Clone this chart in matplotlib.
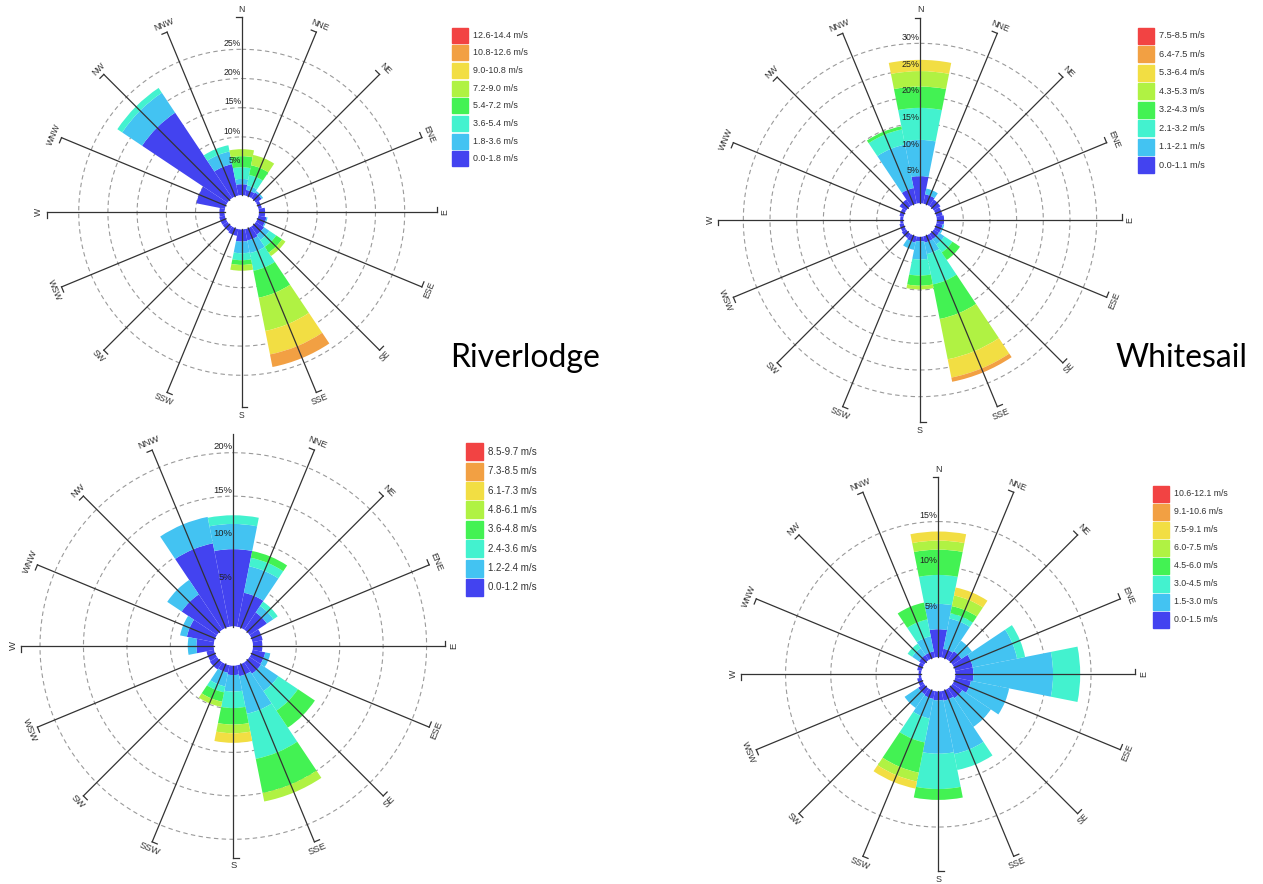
import numpy as np
import matplotlib.pyplot as plt
from matplotlib.patches import Rectangle

plt.rcParams['font.family'] = ['Liberation Sans', 'DejaVu Sans']

W, H = 1263, 884

DIRS = ['N', 'NNE', 'NE', 'ENE', 'E', 'ESE', 'SE', 'SSE',
        'S', 'SSW', 'SW', 'WSW', 'W', 'WNW', 'NW', 'NNW']
COLORS = ['#4343F0', '#43C3F2', '#43F2CF', '#43F253',
          '#B0F243', '#F2DE43', '#F2A043', '#F24343']

# cumulative frequency (%) at the top of each speed class, one row per direction
riverlodge = [
    [1.9, 2.8, 4.8, 6.7, 7.9], [1.0, 1.8, 3.6, 5.3, 7.1], [1.2, 1.5], [0.6],
    [1.1], [1.4, 1.6], [1.7, 2.8, 4.2, 5.4, 6.1], [2.0, 4.2, 7.3, 12.0, 17.8, 21.9, 24.1],
    [2.1, 4.1, 5.3, 6.1, 7.1], [1.2], [1.0], [1.0],
    [0.9], [5.0], [17.6, 21.7, 22.7], [5.5, 7.7, 8.8],
]
riverlodge_bins = ['0.0-1.8 m/s', '1.8-3.6 m/s', '3.6-5.4 m/s', '5.4-7.2 m/s',
                   '7.2-9.0 m/s', '9.0-10.8 m/s', '10.8-12.6 m/s', '12.6-14.4 m/s']

whitesail = [
    [5.1, 11.9, 17.9, 21.9, 24.8, 26.9], [1.8, 2.9], [1.5], [1.2],
    [1.4], [1.2, 1.5], [1.2, 2.4, 4.2, 5.9], [1.2, 3.4, 9.2, 15.8, 23.5, 27.0, 27.8],
    [0.9, 4.3, 7.3, 9.2, 9.9], [1.2, 2.6], [1.0], [0.8],
    [0.6], [0.8], [1.5], [3.0, 11.3, 14.2, 14.8],
]
whitesail_bins = ['0.0-1.1 m/s', '1.1-2.1 m/s', '2.1-3.2 m/s', '3.2-4.3 m/s',
                  '4.3-5.3 m/s', '5.3-6.4 m/s', '6.4-7.5 m/s', '7.5-8.5 m/s']

site3 = [
    [8.9, 11.8, 12.8], [4.0, 7.1, 8.1, 8.9], [2.4, 3.3, 3.9], [1.2],
    [1.1], [1.5, 2.1], [1.6, 4.0, 6.7, 9.05], [1.3, 5.7, 11.0, 15.0, 16.0],
    [1.1, 3.0, 4.9, 6.8, 7.8, 8.9], [0.9, 2.5, 3.2, 4.3, 4.9], [1.0], [0.9],
    [2.0, 3.0], [3.2, 4.0], [4.9, 6.9], [9.8, 12.9],
]
site3_bins = ['0.0-1.2 m/s', '1.2-2.4 m/s', '2.4-3.6 m/s', '3.6-4.8 m/s',
              '4.8-6.1 m/s', '6.1-7.3 m/s', '7.3-8.5 m/s', '8.5-9.7 m/s']

site4 = [
    [3.1, 5.9, 9.1, 11.9, 12.9, 13.9], [1.0, 4.4, 5.0, 5.8, 7.0, 7.9], [1.2, 2.6], [2.0, 7.0, 7.9],
    [2.0, 10.8, 13.8], [1.8, 6.1], [1.3, 5.1], [1.1, 7.1, 8.9],
    [1.0, 6.9, 10.8, 12.0], [0.9, 3.1, 5.8, 9.2, 10.2, 11.0], [0.8, 2.6], [0.5],
    [0.3], [0.5], [0.7, 1.6, 2.2], [0.7, 2.4, 4.3, 6.2],
]
site4_bins = ['0.0-1.5 m/s', '1.5-3.0 m/s', '3.0-4.5 m/s', '4.5-6.0 m/s',
              '6.0-7.5 m/s', '7.5-9.1 m/s', '9.1-10.6 m/s', '10.6-12.1 m/s']


def draw_rose(fig, cum, names, cx, cy, r0, k, L, rings, fs):
    # cx, cy: centre in pixels; r0: hole radius px; k: px per percent; L: spoke length px
    ax = fig.add_axes([(cx - L) / W, (H - cy - L) / H, 2 * L / W, 2 * L / H],
                      projection='polar')
    ax.set_theta_zero_location('N')
    ax.set_theta_direction(-1)
    rmax = (L - r0) / k
    ax.set_ylim(0, rmax)
    ax.set_rorigin(-r0 / k)
    ax.set_axis_off()

    theta = np.deg2rad(np.arange(16) * 22.5)
    full = np.linspace(0, 2 * np.pi, 721)
    for r in rings:
        ax.plot(full, np.full_like(full, r), color='#9a9a9a', lw=0.8,
                ls=(0, (4, 3)), zorder=1)

    table = np.array([row + [row[-1]] * (8 - len(row)) for row in cum])
    bottom = np.zeros(16)
    for i in range(8):
        h = table[:, i] - bottom
        m = h > 0
        if m.any():
            ax.bar(theta[m], h[m], width=2 * np.pi / 16, bottom=bottom[m],
                   color=COLORS[i], linewidth=0, zorder=2)
        bottom = table[:, i]

    tick = 5.5
    dt = np.arctan2(tick, L)
    rr = (np.hypot(L, tick) - r0) / k
    for t, name in zip(theta, names):
        ax.plot([t, t], [0, rmax], color='#333333', lw=0.9, zorder=3, clip_on=False)
        if not name:
            continue
        ax.plot([t, t - dt], [rmax, rr], color='#333333', lw=0.9, zorder=3, clip_on=False)
        b = np.rad2deg(t)
        rot = 180 - b if 90 <= b < 270 else -b
        ax.text(t, (L + 8 - r0) / k, name, rotation=rot, rotation_mode='anchor',
                ha='center', va='center', fontsize=fs, color='#333333')

    for r in rings:
        ax.annotate(f'{r}%', (0, r), xytext=(-0.5, 1), textcoords='offset points',
                    ha='right', va='bottom', fontsize=fs, color='#222222', zorder=4)
    return ax


def draw_legend(ov, labels, x0, y0, dy, sw, sh, fs):
    for i, lab in enumerate(labels):
        y = y0 + (7 - i) * dy
        ov.add_patch(Rectangle((x0, y - sh / 2), sw, sh, color=COLORS[i]))
        ov.text(x0 + sw + 5, y, lab, va='center', ha='left', fontsize=fs, color='#333333')


fig = plt.figure(figsize=(W / 100, H / 100), dpi=100)

names3 = [''] + DIRS[1:]
draw_rose(fig, riverlodge, DIRS, 241.7, 212.3, 17, 5.84, 195, [5, 10, 15, 20, 25], 6.2)
draw_rose(fig, whitesail, DIRS, 920, 220, 16.6, 5.336, 202, [5, 10, 15, 20, 25, 30], 6.4)
draw_rose(fig, site3, names3, 233.3, 646, 19.5, 8.69, 212, [5, 10, 15, 20], 6.8)
draw_rose(fig, site4, DIRS, 938.3, 674.3, 17, 9.05, 197, [5, 10, 15], 6.4)

ov = fig.add_axes([0, 0, 1, 1])
ov.set_xlim(0, W)
ov.set_ylim(H, 0)
ov.set_axis_off()

draw_legend(ov, riverlodge_bins, 452, 35, 17.7, 16, 15, 6.4)
draw_legend(ov, whitesail_bins, 1138, 35.7, 18.5, 16, 16, 6.6)
draw_legend(ov, site3_bins, 466, 451.7, 19.4, 17, 17, 7.0)
draw_legend(ov, site4_bins, 1153, 494, 18, 16, 16, 6.3)

ov.text(450, 358, 'Riverlodge', fontsize=23, family='Lato', va='center', ha='left', color='black')
ov.text(1115, 358, 'Whitesail', fontsize=23, family='Lato', va='center', ha='left', color='black')

fig.savefig('out.png', dpi=100)
